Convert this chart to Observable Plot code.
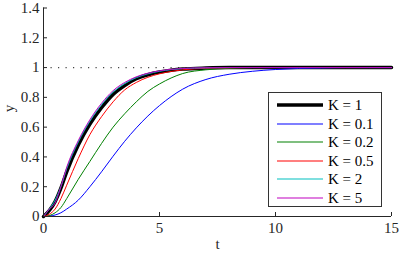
<!DOCTYPE html>
<html>
<head>
<meta charset="utf-8">
<script src="https://cdn.jsdelivr.net/npm/d3@7"></script>
<script src="https://cdn.jsdelivr.net/npm/@observablehq/plot@0.6"></script>
<style>
  html, body { margin: 0; padding: 0; background: #fff; }
  #wrap { position: relative; width: 399px; height: 255px; font-family: "Liberation Serif", "Times New Roman", "DejaVu Serif", serif; }
  #wrap svg text { font-family: "Liberation Serif", "Times New Roman", "DejaVu Serif", serif !important; }
  #legend { position: absolute; left: 268px; top: 92px; width: 114px; height: 115px; border: 1px solid #333; background: #fff; box-sizing: border-box; }
  .row { position: absolute; left: 0; height: 18px; width: 112px; font-size: 15px; line-height: 18px; }
  .row svg { position: absolute; left: 8px; top: 0; }
  .row span { position: absolute; left: 59px; top: 0; white-space: nowrap; }
</style>
</head>
<body>
<div id="wrap"></div>
<script>
// ---- data ----
const t = [0, 0.25, 0.5, 0.75, 1, 1.5, 2, 2.5, 3, 3.5, 4, 4.5, 5, 5.5, 6, 7, 8, 9, 10, 11, 12, 13, 15];
const yK1   = [0, 0.04, 0.10, 0.19, 0.30, 0.48, 0.62, 0.73, 0.82, 0.88, 0.925, 0.952, 0.970, 0.982, 0.990, 0.997, 1, 1, 1, 1, 1, 1, 1];
const yK01  = [0, 0.003, 0.01, 0.025, 0.05, 0.11, 0.20, 0.30, 0.405, 0.505, 0.595, 0.675, 0.745, 0.805, 0.855, 0.92, 0.955, 0.975, 0.987, 0.994, 0.997, 1, 1];
const yK02  = [0, 0.006, 0.025, 0.06, 0.12, 0.25, 0.37, 0.49, 0.60, 0.69, 0.77, 0.84, 0.89, 0.93, 0.96, 0.985, 0.995, 1, 1, 1, 1, 1, 1];
const yK05  = [0, 0.015, 0.05, 0.12, 0.21, 0.39, 0.55, 0.67, 0.77, 0.85, 0.90, 0.935, 0.958, 0.974, 0.985, 0.995, 0.999, 1, 1, 1, 1, 1, 1];
const yK2   = [0, 0.05, 0.11, 0.20, 0.32, 0.50, 0.64, 0.75, 0.835, 0.892, 0.932, 0.958, 0.975, 0.986, 0.993, 0.998, 1, 1, 1, 1, 1, 1, 1];
const yK5   = [0, 0.05, 0.09, 0.20, 0.33, 0.51, 0.65, 0.76, 0.845, 0.90, 0.938, 0.962, 0.978, 0.988, 0.994, 0.999, 1, 1, 1, 1, 1, 1, 1];

const seriesNames = ["K = 1", "K = 0.1", "K = 0.2", "K = 0.5", "K = 2", "K = 5"];
const seriesValues = [yK1, yK01, yK02, yK05, yK2, yK5];
const seriesColors = ["#000000", "#0000ff", "#008000", "#ff0000", "#00bfbf", "#bf00bf"];
const seriesWidths = [3.5, 1, 1, 1, 1, 1];

const xTicks = [0, 5, 10, 15];
const yTicks = [0, 0.2, 0.4, 0.6, 0.8, 1, 1.2, 1.4];
const refLevel = [1];
const xLabel = "t";
const yLabel = "y";

// ---- build ----
const lineMarks = seriesNames.map((name, i) =>
  Plot.line(t.map((tv, j) => ({t: tv, y: seriesValues[i][j]})), {
    x: "t", y: "y", stroke: seriesColors[i], strokeWidth: seriesWidths[i], curve: "monotone-x"
  })
);

const axisColor = "#262626";
const serif = "'Liberation Serif', 'Times New Roman', 'DejaVu Serif', serif";

const chart = Plot.plot({
  width: 399,
  height: 255,
  marginLeft: 43,
  marginRight: 8,
  marginTop: 7.5,
  marginBottom: 39,
  style: {fontFamily: serif, fontSize: "15px", color: axisColor, background: "#fff", overflow: "visible"},
  x: {domain: [0, 15]},
  y: {domain: [0, 1.4]},
  marks: [
    Plot.ruleY(refLevel, {stroke: "#444", strokeWidth: 1.2, strokeDasharray: "1.2,6.3"}),
    ...lineMarks,
    Plot.ruleX([0], {stroke: axisColor}),
    Plot.ruleY([0], {stroke: axisColor}),
    Plot.axisX({ticks: xTicks, tickSize: -4, tickPadding: 10, label: null, tickFormat: d => String(d), stroke: axisColor, fill: axisColor, fontFamily: serif}),
    Plot.axisY({ticks: yTicks, tickSize: -4, tickPadding: 8, label: null, tickFormat: d => String(+d.toFixed(1)), stroke: axisColor, fill: axisColor, fontFamily: serif}),
    Plot.text([xLabel], {frameAnchor: "bottom", dy: 32, fill: axisColor, fontSize: 15, fontFamily: serif}),
    Plot.text([yLabel], {frameAnchor: "left", dx: -34, rotate: -90, fill: axisColor, fontSize: 15, fontFamily: serif})
  ]
});

const wrap = document.getElementById("wrap");
wrap.appendChild(chart);

// legend
const legend = d3.select(wrap).append("div").attr("id", "legend");
seriesNames.forEach((name, i) => {
  const row = legend.append("div").attr("class", "row").style("top", (3 + i * 18.6) + "px");
  const s = row.append("svg").attr("width", 46).attr("height", 18);
  s.append("line").attr("x1", 0).attr("x2", 46).attr("y1", 9).attr("y2", 9)
    .attr("stroke", seriesColors[i]).attr("stroke-width", i === 0 ? 3.5 : 1.2);
  row.append("span").text(name);
});
</script>
</body>
</html>
